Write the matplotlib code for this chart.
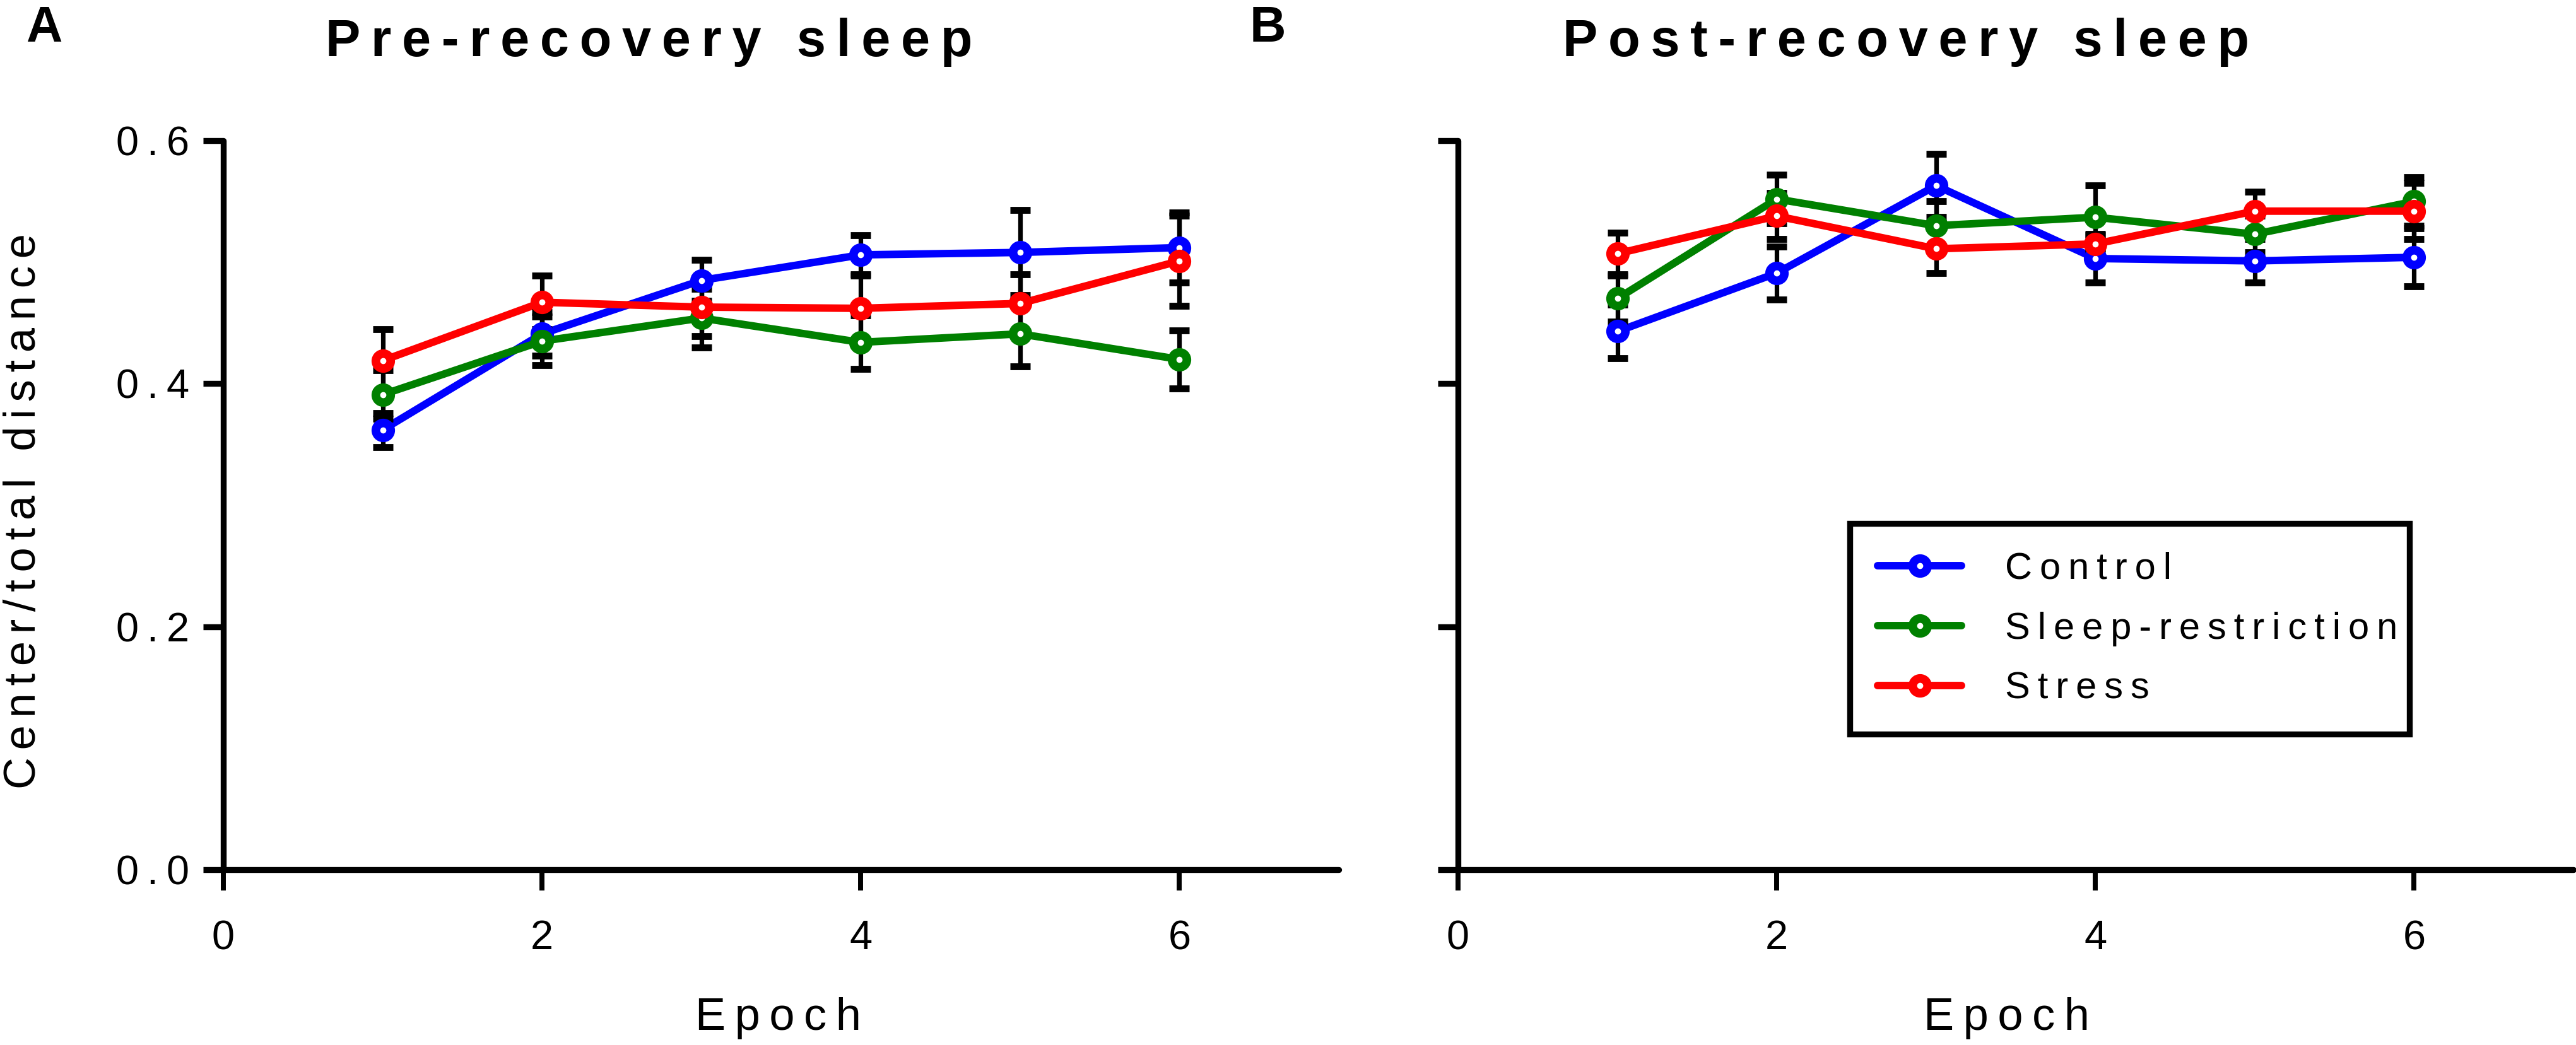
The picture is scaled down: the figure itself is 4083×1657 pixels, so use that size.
import matplotlib
matplotlib.use("Agg")
import matplotlib.pyplot as plt
from matplotlib.lines import Line2D

plt.rcParams["font.family"] = ["Liberation Sans", "DejaVu Sans"]

# ── data ─────────────────────────────────────────────────────────────────────
epochs = [1, 2, 3, 4, 5, 6]
groups = ["Control", "Sleep-restriction", "Stress"]
colors = ["#0000FF", "#008000", "#FF0000"]

pre_control = [0.362, 0.441, 0.485, 0.506, 0.508, 0.512]
pre_control_sem = [0.014, 0.018, 0.017, 0.016, 0.035, 0.029]
pre_sleep = [0.391, 0.435, 0.454, 0.434, 0.441, 0.420]
pre_sleep_sem = [0.020, 0.020, 0.024, 0.022, 0.027, 0.024]
pre_stress = [0.419, 0.467, 0.463, 0.462, 0.466, 0.501]
pre_stress_sem = [0.026, 0.022, 0.024, 0.027, 0.024, 0.037]

post_control = [0.443, 0.491, 0.563, 0.503, 0.501, 0.504]
post_control_sem = [0.022, 0.022, 0.026, 0.020, 0.018, 0.024]
post_sleep = [0.470, 0.552, 0.530, 0.537, 0.523, 0.550]
post_sleep_sem = [0.019, 0.020, 0.020, 0.026, 0.015, 0.020]
post_stress = [0.507, 0.538, 0.511, 0.515, 0.542, 0.542]
post_stress_sem = [0.017, 0.019, 0.020, 0.007, 0.016, 0.023]

xticks = [0, 2, 4, 6]
yticks = [0.0, 0.2, 0.4, 0.6]
ytick_labels = ["0.0", "0.2", "0.4", "0.6"]

LW_AX = 2.6
LW_LINE = 3.3
MS, MEW = 6.5, 3.8


def spaced(s, sep="\u2009"):
    # GraphPad-style letter spacing
    return sep.join(s)


def panel(ax, means, sems, show_ylabels):
    for m, e, c in zip(means, sems, colors):
        ax.plot(epochs, m, color=c, lw=LW_LINE, zorder=2, clip_on=False,
                solid_joinstyle="round")
        ax.errorbar(epochs, m, yerr=e, fmt="none", ecolor="black",
                    elinewidth=2.0, capsize=4.5, capthick=3.0, zorder=3,
                    clip_on=False)
        ax.plot(epochs, m, ls="none", marker="o", ms=MS, mew=MEW,
                mfc="white", mec=c, zorder=4, clip_on=False)
    ax.set_xlim(0, 7)
    ax.set_ylim(0, 0.6)
    for s in ("top", "right"):
        ax.spines[s].set_visible(False)
    for s in ("left", "bottom"):
        ax.spines[s].set_linewidth(LW_AX)
        ax.spines[s].set_capstyle("round")
    ax.set_xticks(xticks)
    ax.set_xticklabels([spaced(str(t)) for t in xticks])
    ax.set_yticks(yticks)
    if show_ylabels:
        ax.set_yticklabels([spaced(t) for t in ytick_labels])
    else:
        ax.set_yticklabels([])
    ax.tick_params(axis="x", direction="out", length=9, width=2.2,
                   labelsize=18, pad=13)
    ax.tick_params(axis="y", direction="out", length=9, width=LW_AX,
                   labelsize=18, pad=6)


fig = plt.figure(figsize=(4083 / 260, 1657 / 260), dpi=260)
ax_a = fig.add_axes([0.0867, 0.1678, 0.433, 0.6976])
ax_b = fig.add_axes([0.566, 0.1678, 0.433, 0.6976])

panel(ax_a, [pre_control, pre_sleep, pre_stress],
      [pre_control_sem, pre_sleep_sem, pre_stress_sem], True)
panel(ax_b, [post_control, post_sleep, post_stress],
      [post_control_sem, post_sleep_sem, post_stress_sem], False)

# ── texts ───────────────────────────────────────────────────────────────────
fig.text(0.010, 0.960, "A", fontsize=22, fontweight="bold", ha="left", va="baseline")
fig.text(0.485, 0.960, "B", fontsize=22, fontweight="bold", ha="left", va="baseline")
fig.text(0.252, 0.946, spaced("Pre-recovery sleep"), fontsize=23,
         fontweight="bold", ha="center", va="baseline")
fig.text(0.740, 0.946, spaced("Post-recovery sleep"), fontsize=23,
         fontweight="bold", ha="center", va="baseline")
fig.text(0.0093, 0.511, spaced("Center/total distance", "\u2006"), fontsize=19.5,
         rotation=90, ha="center", va="center")
fig.text(0.302, 0.0145, spaced("Epoch"), fontsize=20, ha="center", va="baseline")
fig.text(0.779, 0.0145, spaced("Epoch"), fontsize=20, ha="center", va="baseline")

# ── legend ──────────────────────────────────────────────────────────────────
handles = [Line2D([], [], color=c, lw=LW_LINE, marker="o", ms=MS, mew=MEW,
                  mfc="white", mec=c, solid_capstyle="round") for c in colors]
leg = ax_b.legend(handles, [spaced(g) for g in groups], loc="upper left",
                  bbox_to_anchor=(0.351, 0.190, 0.502, 0.285), mode="expand",
                  borderaxespad=0, fontsize=16.5, frameon=True, fancybox=False,
                  framealpha=1, edgecolor="black", borderpad=0.75,
                  labelspacing=0.67, handlelength=2.23, handletextpad=1.15,
                  numpoints=1)
leg.get_frame().set_linewidth(LW_AX)

fig.savefig("out.png", dpi=260)
